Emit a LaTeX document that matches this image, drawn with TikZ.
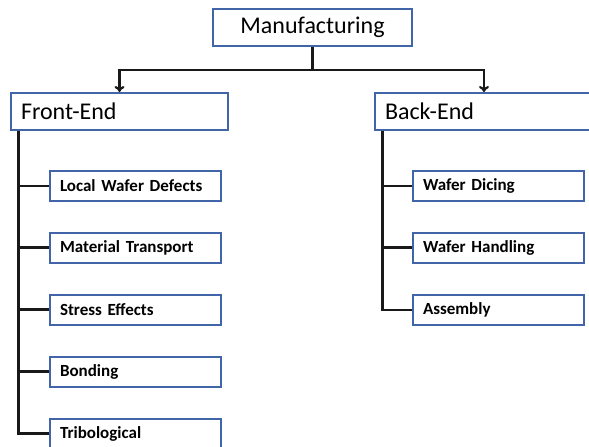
\documentclass[tikz,border=0pt]{standalone}
\usepackage{fontspec}
\setmainfont{Carlito}
\usepackage{tikz}
\usetikzlibrary{arrows.meta}

\definecolor{boxblue}{RGB}{66,100,168}

\begin{document}
\begin{tikzpicture}[x=1pt, y=-1pt,
   headbox/.style={draw=boxblue, line width=2pt, fill=white, inner xsep=10pt,
      inner ysep=0pt, minimum height=37pt, font=\fontsize{24}{26}\selectfont, anchor=west},
   itembox/.style={draw=boxblue, line width=2pt, fill=white, inner xsep=10pt,
      inner ysep=0pt, minimum height=30pt, text width=151pt, align=left,
      font=\fontsize{17}{19}\selectfont\bfseries, anchor=west},
   conn/.style={line width=2.2pt, black!90}]
   \useasboundingbox (0,0) rectangle (589,447);

   % top of the tree
   \node[headbox, minimum width=199pt, align=center] (manu) at (212,27.5) {Manufacturing};
   \node[headbox, text width=197pt, align=left] (front) at (10,111.5) {Front-End};
   \node[headbox, text width=198pt, align=left] (back) at (374,111.5) {Back-End};

   \path (manu.south) ++(0,23) coordinate (split);
   \draw[conn] (manu.south) -- (split);
   \draw[conn, -{To[length=6pt, width=10pt]}] (split) -| (front.north);
   \draw[conn, -{To[length=6pt, width=10pt]}] (split) -| (back.north);

   % front-end items
   \node[itembox] (defects) at (49,186) {Local Wafer Defects};
   \node[itembox] (transport) at (49,247.5) {Material Transport};
   \node[itembox] (stress) at (49,309.5) {Stress Effects};
   \node[itembox] (bonding) at (49,371.5) {Bonding};
   \node[itembox] (tribo) at (49,433.5) {Tribological};

   \draw[conn] ([xshift=8.5pt]front.south west) |- (defects.west);
   \draw[conn] ([xshift=8.5pt]front.south west) |- (transport.west);
   \draw[conn] ([xshift=8.5pt]front.south west) |- (stress.west);
   \draw[conn] ([xshift=8.5pt]front.south west) |- (bonding.west);
   \draw[conn] ([xshift=8.5pt]front.south west) |- (tribo.west);

   % back-end items
   \node[itembox] (dicing) at (412,186) {Wafer Dicing};
   \node[itembox] (handling) at (412,247.5) {Wafer Handling};
   \node[itembox] (assembly) at (412,310) {Assembly};

   \draw[conn] ([xshift=8.5pt]back.south west) |- (dicing.west);
   \draw[conn] ([xshift=8.5pt]back.south west) |- (handling.west);
   \draw[conn] ([xshift=8.5pt]back.south west) |- (assembly.west);
\end{tikzpicture}
\end{document}
